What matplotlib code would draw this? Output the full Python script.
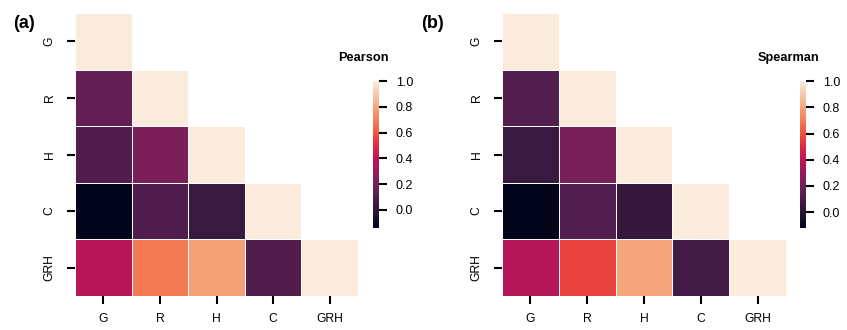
import numpy as np
import matplotlib
matplotlib.use("Agg")
import matplotlib.pyplot as plt
import seaborn as sns

labels = ["G", "R", "H", "C", "GRH"]

# lower triangle (row-wise)
pearson = [
    [1.00],
    [0.15, 1.00],
    [0.10, 0.22, 1.00],
    [-0.14, 0.10, 0.03, 1.00],
    [0.38, 0.68, 0.78, 0.10, 1.00],
]
spearman = [
    [1.00],
    [0.12, 1.00],
    [0.05, 0.22, 1.00],
    [-0.12, 0.12, 0.03, 1.00],
    [0.38, 0.55, 0.80, 0.08, 1.00],
]


def full_matrix(rows):
    n = len(rows)
    m = np.full((n, n), np.nan)
    for i, row in enumerate(rows):
        for j, v in enumerate(row):
            m[i, j] = v
            m[j, i] = v
    return m


sns.set_style("ticks")
plt.rcParams["font.family"] = ["Liberation Sans", "DejaVu Sans"]
plt.rcParams["text.color"] = "black"
plt.rcParams["xtick.color"] = "black"
plt.rcParams["ytick.color"] = "black"

W, H = 847, 330
fig = plt.figure(figsize=(W / 100, H / 100), dpi=100)


def px_axes(x0, y0, x1, y1):
    return fig.add_axes([x0 / W, 1 - y1 / H, (x1 - x0) / W, (y1 - y0) / H])


panels = [
    ("(a)", "Pearson", pearson, (75, 13, 358, 296), (373, 81, 379, 228), 13, 363),
    ("(b)", "Spearman", spearman, (502, 13, 786, 296), (800, 81, 806, 228), 421, 788),
]

for tag, name, rows, hm_box, cb_box, tag_x, title_x in panels:
    mat = full_matrix(rows)
    mask = np.triu(np.ones_like(mat, dtype=bool), k=1)
    ax = px_axes(*hm_box)
    cax = px_axes(*cb_box)
    sns.heatmap(mat, mask=mask, cmap="rocket", vmax=1.0, linewidths=0.7, linecolor="white",
                xticklabels=labels, yticklabels=labels, ax=ax, cbar_ax=cax, square=False)
    ax.tick_params(axis="x", labelsize=8.7, length=6, width=1.5, pad=6)
    ax.tick_params(axis="y", labelsize=8.7, length=6, width=1.5, pad=8)
    ax.set_yticklabels(labels, rotation=90, va="center")
    ax.set_xticklabels(labels, rotation=0)
    cax.tick_params(labelsize=9, length=6, width=1.5, pad=6)
    cax.set_yticks([0.0, 0.2, 0.4, 0.6, 0.8, 1.0])
    for s in cax.spines.values():
        s.set_visible(False)
    fig.text(title_x / W, 1 - 58 / H, name, ha="center", va="center",
             fontsize=9.2, fontweight="bold")
    fig.text(tag_x / W, 1 - 24 / H, tag, ha="left", va="center",
             fontsize=13, fontweight="bold")

fig.savefig("out.png", dpi=100)
